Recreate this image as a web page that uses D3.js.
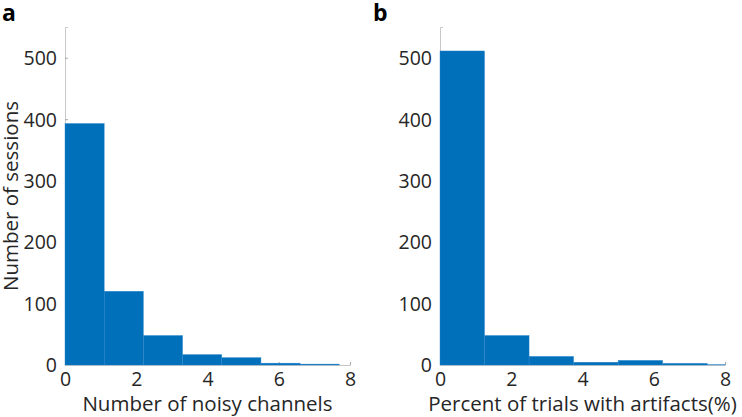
<!DOCTYPE html>
<html><head><meta charset="utf-8">
<script src="https://cdn.jsdelivr.net/npm/d3@7"></script>
<style>body{margin:0;background:#fff}svg{display:block}</style>
</head><body>
<svg id="c" width="742" height="417"></svg>
<script>
// Panel a: number of noisy channels (bin width 1.1)
const binsA = [0, 1.1, 2.2, 3.3, 4.4, 5.5, 6.6, 7.7];
const countsA = [393, 120, 48, 17, 12, 3, 1.5];
// Panel b: percent of trials with artifacts (bin width 1.25)
const binsB = [0, 1.25, 2.5, 3.75, 5, 6.25, 7.5, 8];
const countsB = [511, 48, 14, 4.5, 7.5, 2.7, 1];
const xTicks = [0, 2, 4, 6, 8];
const yTicks = [0, 100, 200, 300, 400, 500];

const svg = d3.select("#c");
const font = "'Open Sans', 'Noto Sans', sans-serif";
const textColor = "#262626";
const axisColor = "#c8c8c8";
const barColor = "#0070BB";

function panel(cfg) {
  const x = d3.scaleLinear().domain([0, 8]).range([cfg.left, cfg.right]);
  const y = d3.scaleLinear().domain([0, 550]).range([365, 27]);
  const g = svg.append("g");

  const yAxis = d3.axisLeft(y).tickValues(yTicks).tickSize(-3).tickPadding(8).tickFormat(d3.format("d"));
  const gy = g.append("g").attr("transform", `translate(${cfg.left},0)`).call(yAxis);
  const xAxis = d3.axisBottom(x).tickValues(xTicks).tickSize(-3).tickPadding(4).tickFormat(d3.format("d"));
  const gx = g.append("g").attr("transform", `translate(0,365)`).call(xAxis);
  [gx, gy].forEach(a => {
    a.select(".domain").attr("stroke", axisColor).attr("stroke-width", 1);
    a.selectAll(".tick line").attr("stroke", "#a8a8a8");
    a.selectAll(".tick text").attr("fill", textColor).style("font-family", font).style("font-size", "19.5px");
  });
  gx.selectAll(".tick text").attr("dy", "0.85em");
  gy.selectAll(".tick text").attr("dy", "0.35em");

  const data = cfg.counts.map((c, i) => ({x0: cfg.bins[i], x1: Math.min(cfg.bins[i + 1], 8), c}));
  g.append("g").selectAll("rect").data(data).join("rect")
    .attr("x", d => x(d.x0))
    .attr("width", d => x(d.x1) - x(d.x0))
    .attr("y", d => y(d.c))
    .attr("height", d => y(0) - y(d.c))
    .attr("fill", (d, i) => i === data.length - 1 && cfg.lightLast ? "#9cc4e6" : barColor)
    .attr("stroke", "#2f86cc")
    .attr("stroke-width", 0.4);

  g.append("text").attr("x", (cfg.left + cfg.right) / 2).attr("y", 411)
    .attr("text-anchor", "middle").attr("fill", textColor)
    .style("font-family", font).style("font-size", "20.5px").text(cfg.xlabel);

  if (cfg.ylabel) {
    g.append("text").attr("transform", `translate(18,196) rotate(-90)`)
      .attr("text-anchor", "middle").attr("fill", textColor)
      .style("font-family", font).style("font-size", "20.5px").text(cfg.ylabel);
  }

  g.append("text").attr("x", cfg.labelX).attr("y", 21).attr("fill", "#000")
    .style("font-family", font).style("font-size", "23px").style("font-weight", "bold").text(cfg.letter);
}

panel({left: 65, right: 350, bins: binsA, counts: countsA, xlabel: "Number of noisy channels", ylabel: "Number of sessions", letter: "a", labelX: 2});
panel({left: 440, right: 725, bins: binsB, counts: countsB, xlabel: "Percent of trials with artifacts(%)", ylabel: null, letter: "b", labelX: 373, lightLast: true});
</script>
</body></html>
